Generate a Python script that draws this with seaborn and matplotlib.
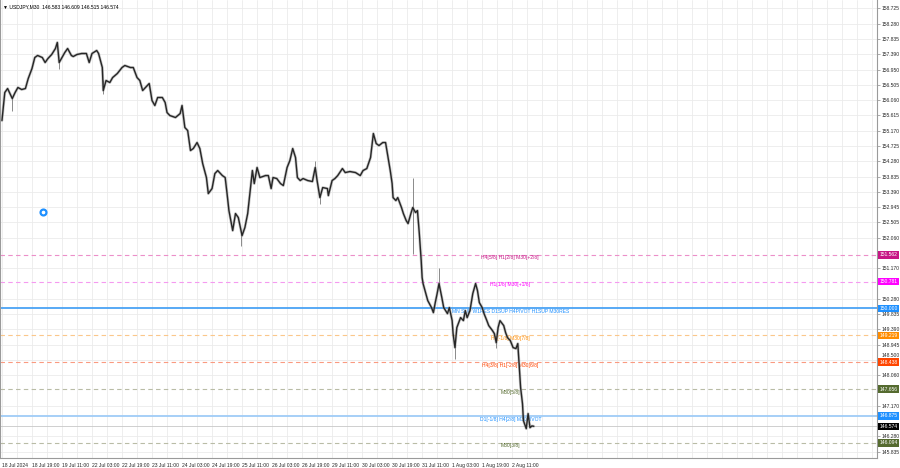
import matplotlib
matplotlib.use("Agg")
import matplotlib.pyplot as plt
import matplotlib.transforms as mtransforms
import seaborn as sns
import pandas as pd

sns.set_style("white")
plt.rcParams['font.family'] = ['Liberation Sans Narrow', 'Liberation Sans', 'DejaVu Sans']

# USDJPY M30 closes, bar number counted from 18 Jul 03:00
bars = [0, 3, 6, 11, 14, 17, 21, 25, 28, 32,
        35, 38, 43, 46, 49, 53, 57, 59, 61, 64,
        67, 70, 74, 76, 80, 85, 90, 93, 96, 101,
        103, 107, 108, 111, 115, 118, 123, 128, 131, 137,
        140, 144, 147, 150, 155, 157, 160, 163, 166, 171,
        174, 176, 179, 185, 190, 192, 195, 198, 201, 204,
        208, 211, 214, 218, 220, 224, 227, 230, 235, 238,
        240, 242, 246, 249, 252, 256, 259, 262, 265, 267,
        269, 272, 275, 281, 284, 287, 289, 293, 297, 300,
        304, 307, 310, 313, 315, 318, 321, 326, 331, 334,
        336, 339, 342, 347, 348, 352, 355, 358, 363, 366,
        371, 377, 382, 385, 389, 393, 396, 399, 402, 406,
        409, 411, 414, 416, 417, 420, 422, 426, 428, 431,
        433, 436, 438, 441, 443, 445, 447, 448, 449, 452,
        454, 458, 460, 462, 464, 466, 469, 471, 475, 477,
        480, 481, 483, 485, 489, 492, 494, 496, 499, 502,
        505, 507, 509, 512, 514, 517, 519, 523, 525, 527,
        529, 531, 535, 537, 539, 542, 545, 548, 550, 551,
        553, 555, 556, 559, 561, 562, 563, 565, 567]
closes = [155.466, 156.281, 156.397, 156.106, 156.281, 156.427, 156.368, 156.397, 156.688, 156.979,
          157.299, 157.358, 157.299, 157.154, 157.270, 157.387, 157.561, 157.736, 157.154, 157.299,
          157.445, 157.561, 157.358, 157.328, 157.387, 157.416, 157.416, 157.154, 157.416, 157.503,
          157.416, 157.008, 156.339, 156.630, 156.572, 156.717, 156.834, 157.008, 157.067, 157.008,
          157.008, 156.717, 156.630, 156.339, 156.485, 156.543, 156.048, 155.903, 156.136, 156.136,
          155.990, 155.699, 155.612, 155.554, 155.670, 155.903, 155.263, 155.175, 154.594, 154.652,
          154.826, 154.652, 154.215, 153.808, 153.342, 153.488, 153.924, 154.012, 153.866, 153.808,
          153.342, 152.848, 152.266, 152.761, 152.644, 152.120, 152.353, 152.761, 153.517, 154.012,
          153.633, 154.099, 153.808, 153.866, 153.866, 153.488, 153.808, 153.779, 153.633, 153.575,
          154.099, 154.303, 154.652, 154.390, 153.808, 153.721, 153.779, 153.721, 153.692, 154.099,
          153.721, 153.226, 153.517, 153.488, 153.284, 153.721, 153.779, 153.866, 154.070, 153.953,
          153.983, 153.953, 153.866, 154.012, 154.070, 154.390, 155.088, 154.797, 154.739, 154.826,
          154.826, 154.506, 154.012, 153.633, 153.226, 153.139, 153.226, 152.935, 152.761, 152.557,
          152.470, 152.761, 152.935, 152.790, 152.848, 152.179, 151.393, 150.898, 150.724, 150.433,
          150.229, 150.026, 149.880, 150.171, 150.433, 150.724, 150.317, 150.026, 149.851, 150.026,
          149.647, 149.269, 148.862, 149.444, 149.735, 149.647, 149.938, 149.735, 149.938, 150.433,
          150.724, 150.520, 150.171, 150.026, 149.851, 149.647, 149.502, 149.356, 149.269, 149.007,
          149.444, 149.647, 149.502, 149.298, 149.153, 149.066, 148.862, 148.833, 148.978, 148.542,
          147.698, 147.232, 146.738, 146.505, 146.942, 146.738, 146.534, 146.583, 146.574]

# a few long wicks
wick_bars = [11, 61, 108, 255, 334, 339, 438, 466, 483, 527]
wick_lows = [155.757, 156.979, 156.250, 151.830, 154.050, 153.052, 151.597, 150.600, 148.542, 148.862]
wick_highs = [156.150, 157.200, 156.650, 152.200, 154.303, 153.300, 153.808, 151.189, 149.000, 149.050]

# Murrey math levels
level_prices = [151.562, 150.781, 150.000, 149.219, 148.438, 147.656, 146.875, 146.094]
level_texts = ["H4[5/8] H1[2/8] M30[+2/8]", "H1[1/8] M30[+1/8]",
               "MN SUP W1RES D1SUP H4PIVOT H1SUP M30RES", "H1[-1/8] M30[7/8]",
               "H4[3/8] H1[-2/8] M30[6/8]", "M30[5/8]",
               "D1[-1/8] H4[2/8] M30PIVOT", "M30[3/8]"]
current_price = 146.574

# price scale labels (the ones hidden behind level boxes are left out)
price_ticks = [158.725, 158.280, 157.835, 157.390, 156.950, 156.505, 156.060, 155.615,
               155.170, 154.725, 154.280, 153.835, 153.390, 152.945, 152.505, 152.060,
               151.170, 150.280, 149.835, 149.390, 148.945, 148.500,
               148.060, 147.170, 146.280, 145.835]
time_labels = ["18 Jul 2024", "18 Jul 19:00", "19 Jul 11:00", "22 Jul 03:00", "22 Jul 19:00",
               "23 Jul 11:00", "24 Jul 03:00", "24 Jul 19:00", "25 Jul 11:00", "26 Jul 03:00",
               "26 Jul 19:00", "29 Jul 11:00", "30 Jul 03:00", "30 Jul 19:00", "31 Jul 11:00",
               "1 Aug 03:00", "1 Aug 19:00", "2 Aug 11:00"]

marker_bar, marker_price = 44, 152.806

# styles
level_colors = ['#c71585', '#ff00ff', '#1e90ff', '#ff8c00', '#ff4500', '#556b2f', '#1e90ff', '#556b2f']
line_colors = ['#ec8fc9', '#f59af0', '#4aa3f5', '#fbc78a', '#fa9a80', '#b9bca6', '#9fccf7', '#b9bca6']
line_styles = ['--', '--', '-', '--', '--', '--', '-', '--']
line_widths = [0.8, 0.8, 1.3, 0.8, 0.8, 0.8, 1.3, 0.8]
fs = 3.6

df = pd.DataFrame({'bar': bars, 'close': closes})

fig = plt.figure(figsize=(9, 4.68), dpi=100)
ax = fig.add_axes([0, 1 - 458 / 468, 877 / 900, 458 / 468])

for p, c, ls, lw, t, tc in zip(level_prices, line_colors, line_styles, line_widths, level_texts, level_colors):
    ax.axhline(p, color=c, ls=ls, lw=lw, dashes=(4, 3) if ls == '--' else (None, None), zorder=1)
    ax.text(542, p - 0.02, t, ha='center', va='top', fontsize=fs, color=tc, zorder=2)
ax.axhline(current_price, color='#c8c8c8', lw=0.6, zorder=1)

ax.vlines(wick_bars, wick_lows, wick_highs, color='#8a8a8a', lw=0.7, zorder=3)
sns.lineplot(data=df, x='bar', y='close', ax=ax, color='#8c8c8c', lw=2.0, alpha=0.5, zorder=3)
sns.lineplot(data=df, x='bar', y='close', ax=ax, color='#262626', lw=1.0, zorder=4)

ax.scatter([marker_bar], [marker_price], s=18, facecolor='white', edgecolor='#1e90ff', linewidth=1.6, zorder=5)

ax.set_xlim(-2.1, 933)
ax.set_ylim(145.651, 158.972)
ax.set_xlabel('')
ax.set_ylabel('')

ax.set_xticks([32 * i for i in range(len(time_labels))])
ax.set_xticklabels(time_labels, fontsize=fs, ha='left')
ax.set_xticks(range(0, 934, 16), minor=True)
ax.yaxis.tick_right()
ax.set_yticks(price_ticks)
ax.set_yticklabels([f"{v:.3f}" for v in price_ticks], fontsize=fs)
ax.tick_params(axis='both', which='both', length=2, width=0.5, color='#888888', pad=1.5)
ax.tick_params(axis='x', which='minor', length=1.5)
ax.grid(True, which='both', color='#ebebeb', lw=0.6)
ax.set_axisbelow(True)
for s in ['left', 'right', 'bottom']:
    ax.spines[s].set_color('#9a9a9a')
    ax.spines[s].set_linewidth(0.8)
ax.spines['top'].set_visible(False)

# the 148.500 label peeks out just above the 148.438 box
for lbl in ax.get_yticklabels():
    if lbl.get_text() == "148.500":
        lbl.set_transform(lbl.get_transform() +
                          mtransforms.ScaledTranslation(0, 3.3 / 72, fig.dpi_scale_trans))

trans = mtransforms.blended_transform_factory(ax.transAxes, ax.transData)
for p, c in zip(level_prices, level_colors):
    ax.text(1.003, p, f"{p:.3f}", transform=trans, ha='left', va='center', color='white',
            fontsize=fs, clip_on=False, zorder=10,
            bbox=dict(boxstyle='square,pad=0.25', fc=c, ec='none'))
ax.text(1.003, current_price, f"{current_price:.3f}", transform=trans, ha='left', va='center',
        color='white', fontsize=fs, clip_on=False, zorder=10,
        bbox=dict(boxstyle='square,pad=0.25', fc='black', ec='none'))

fig.text(0.003, 0.99, "▼ USDJPY,M30  146.583 146.609 146.515 146.574", fontsize=fs,
         ha='left', va='top', color='black')

fig.savefig('out.png', dpi=100)
